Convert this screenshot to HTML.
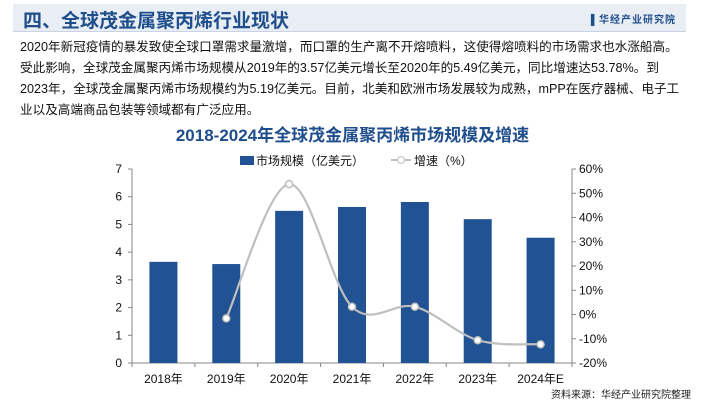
<!DOCTYPE html>
<html><head><meta charset="utf-8"><style>
body{margin:0;width:705px;height:400px;background:#fff;font-family:"Liberation Sans","Noto Sans CJK SC",sans-serif;overflow:hidden;position:relative}
.hdr{position:absolute;left:13px;top:4px;width:673px;height:27px;background:#e9eef5;border-bottom:1px solid #c9d3e3}
.hdr h1{margin:0;position:absolute;left:10px;top:2px;font-size:19px;color:#1f4e8c;font-weight:bold}
.logo{position:absolute;right:10px;top:7px;font-size:10px;color:#1f4e8c;font-weight:bold;letter-spacing:1px}
.para{position:absolute;left:20px;top:37px;width:680px;font-size:12.6px;line-height:21px;color:#111;white-space:nowrap}
.ct{position:absolute;left:0;width:705px;top:121px;text-align:center;font-size:17px;font-weight:bold;color:#1f4e8c}
.src{position:absolute;right:14px;top:386px;font-size:10px;color:#222}
</style></head><body>
<div class="hdr"><h1>四、全球茂金属聚丙烯行业现状</h1><div class="logo">▌华经产业研究院</div></div>
<div class="para">2020年新冠疫情的暴发致使全球口罩需求量激增，而口罩的生产离不开熔喷料，这使得熔喷料的市场需求也水涨船高。<br>受此影响，全球茂金属聚丙烯市场规模从2019年的3.57亿美元增长至2020年的5.49亿美元，同比增速达53.78%。到<br>2023年，全球茂金属聚丙烯市场规模约为5.19亿美元。目前，北美和欧洲市场发展较为成熟，mPP在医疗器械、电子工<br>业以及高端商品包装等领域都有广泛应用。</div>
<div class="ct">2018-2024年全球茂金属聚丙烯市场规模及增速</div>
<svg id="c" width="705" height="400" style="position:absolute;left:0;top:0"></svg>
<div class="src">资料来源：华经产业研究院整理</div>
<script>
const categories=["2018年","2019年","2020年","2021年","2022年","2023年","2024年E"];
const sizeValues=[3.65,3.57,5.49,5.63,5.81,5.19,4.52];
const growthValues=[null,-1.6,53.78,3.2,3.2,-10.6,-12.3];
const leftTicks=[0,1,2,3,4,5,6,7];
const rightTicks=[-20,-10,0,10,20,30,40,50,60];
const svg=document.getElementById('c');const NS="http://www.w3.org/2000/svg";
const X0=132,X1=572,Y0=363,Y1=169;
const yL=v=>Y0-(v-0)/7*(Y0-Y1);
const yR=v=>Y0-(v+20)/80*(Y0-Y1);
const step=(X1-X0)/categories.length;
const xC=i=>X0+step*(i+0.5);
function mk(t,a,txt){const e=document.createElementNS(NS,t);for(const k in a)e.setAttribute(k,a[k]);if(txt!=null)e.textContent=txt;svg.appendChild(e);return e;}
let e;
e=mk('line',{x1:X0,y1:Y1,x2:X0,y2:Y0,stroke:'#888'});


e=mk('line',{x1:X1,y1:Y1,x2:X1,y2:Y0,stroke:'#888'});


e=mk('line',{x1:X0,y1:Y0,x2:X1,y2:Y0,stroke:'#888'});


leftTicks.forEach(v=>{mk('line',{x1:X0-4,x2:X0,y1:yL(v),y2:yL(v),stroke:'#888'});
e=mk('text',{x:X0-10,y:yL(v)+4,'text-anchor':'end','font-size':12,fill:'#111'},v);

});
rightTicks.forEach(v=>{mk('line',{x1:X1,x2:X1+4,y1:yR(v),y2:yR(v),stroke:'#888'});
e=mk('text',{x:X1+7,y:yR(v)+4,'font-size':12,fill:'#111'},v+'%');

});
for(let i=0;i<=categories.length;i++)mk('line',{x1:X0+step*i,x2:X0+step*i,y1:Y0,y2:Y0+4,stroke:'#888'});
categories.forEach((c,i)=>{
e=mk('rect',{x:xC(i)-14,y:yL(sizeValues[i]),width:28,height:Y0-yL(sizeValues[i]),fill:'#215293'});


e=mk('text',{x:xC(i),y:Y0+20,'text-anchor':'middle','font-size':12,fill:'#111'},c);

});
const pts=[];growthValues.forEach((v,i)=>{if(v!=null)pts.push([xC(i),yR(v)]);});
let d='M'+pts[0][0]+','+pts[0][1];
for(let i=0;i<pts.length-1;i++){const p0=pts[Math.max(i-1,0)],p1=pts[i],p2=pts[i+1],p3=pts[Math.min(i+2,pts.length-1)];
d+=` C${p1[0]+(p2[0]-p0[0])/6},${p1[1]+(p2[1]-p0[1])/6} ${p2[0]-(p3[0]-p1[0])/6},${p2[1]-(p3[1]-p1[1])/6} ${p2[0]},${p2[1]}`;}
e=mk('path',{d:d,fill:'none',stroke:'#bfbfbf','stroke-width':2.2});


pts.forEach(p=>{e=mk('circle',{cx:p[0],cy:p[1],r:3.5,fill:'#fff',stroke:'#bfbfbf','stroke-width':1.5});

});
e=mk('rect',{x:240,y:156,width:14,height:9,fill:'#215293'});


e=mk('text',{x:256,y:165,'font-size':12,fill:'#111'},'市场规模（亿美元）');


mk('line',{x1:391,x2:411,y1:160,y2:160,stroke:'#bfbfbf','stroke-width':2});
e=mk('circle',{cx:401,cy:160,r:3.5,fill:'#fff',stroke:'#bfbfbf'});


e=mk('text',{x:414,y:165,'font-size':12,fill:'#111'},'增速（%）');


</script>
</body></html>
